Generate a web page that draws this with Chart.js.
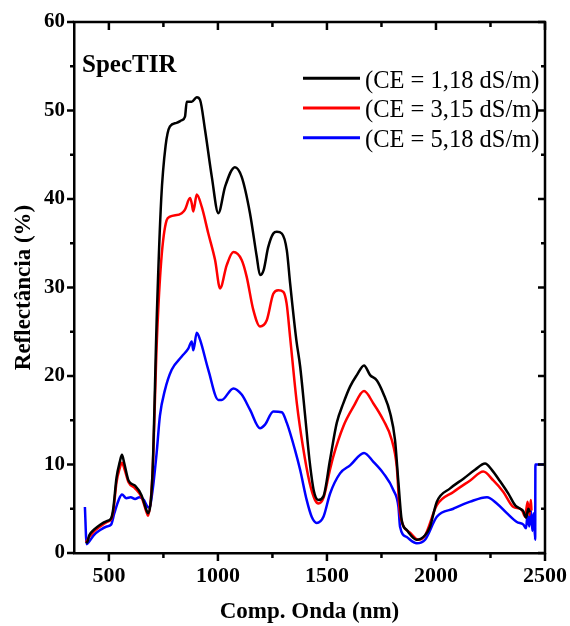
<!DOCTYPE html>
<html>
<head>
<meta charset="utf-8">
<script src="https://cdn.jsdelivr.net/npm/chart.js@4/dist/chart.umd.min.js"></script>
<style>
  html, body { margin: 0; padding: 0; background: #fff; }
  #wrap { width: 570px; height: 626px; }
</style>
</head>
<body>
<div id="wrap"><canvas id="c" width="570" height="626"></canvas></div>
<script>
// ---- data ----
const seriesLabels = ['(CE = 1,18 dS/m)', '(CE = 3,15 dS/m)', '(CE = 5,18 dS/m)'];

const blackNm  = [395,400,410,430,460,490,510,520,535,550,560,570,590,620,650,670,680,700,720,740,760,780,810,834,849,857,880,903,918,941,972,1002,1033,1078,1109,1147,1178,1193,1210,1230,1254,1270,1293,1316,1331,1339,1360,1377,1400,1420,1440,1461,1484,1514,1545,1575,1606,1637,1670,1698,1729,1759,1790,1812,1828,1843,1866,1912,1950,1973,2004,2065,2126,2179,2225,2256,2294,2332,2363,2386,2401,2413,2424,2430];
const blackVal = [1.3,1.2,2.0,2.6,3.2,3.6,3.9,5.0,8.5,10.3,11.1,10.2,8.2,7.6,6.5,5.0,4.5,9.0,27,40,46,48.2,48.6,48.9,49.3,51.0,51.0,51.5,51.2,47.8,42.5,38.4,41.4,43.6,42.5,38.4,33.5,31.4,32.0,34.5,36.1,36.3,36.1,34.2,30.5,28.6,24.0,21.1,15.5,10.5,7.0,6.0,6.4,10.5,14.7,16.9,18.8,20.1,21.2,20.1,19.5,18.0,15.8,12.8,7.9,3.7,2.6,1.5,2.0,3.0,5.8,7.3,8.4,9.4,10.1,9.4,8.1,6.7,5.4,5.0,4.7,4.0,5.0,4.6];

const redNm  = [395,410,430,460,490,510,520,535,550,560,570,590,620,650,670,680,700,720,740,765,780,834,849,872,880,887,903,926,956,987,1010,1040,1071,1109,1132,1162,1193,1224,1254,1277,1300,1315,1331,1362,1390,1420,1445,1461,1485,1510,1529,1575,1621,1670,1713,1759,1797,1820,1835,1881,1919,1950,2004,2080,2157,2217,2263,2309,2355,2393,2409,2420,2429,2435,2438];
const redVal = [1.2,1.8,2.4,3.0,3.5,3.8,4.7,8.0,9.6,10.2,9.6,8.0,7.3,6.3,4.8,4.2,9.0,24,33,37.6,38.0,38.4,38.8,40.1,39.5,38.6,40.5,39.1,36.1,33.1,29.9,32.5,34.0,33.1,31.2,27.5,25.6,26.3,29.3,29.7,29.5,28.2,24.4,16.9,12.0,8.0,6.0,5.6,6.3,9.0,10.9,14.3,16.5,18.3,16.9,15.0,12.8,9.8,4.5,2.3,1.5,2.0,5.4,6.9,8.2,9.2,8.2,6.9,5.2,4.9,4.1,5.8,4.3,6.0,4.8];

const blueNm  = [390,398,410,430,460,490,510,525,545,560,580,600,620,640,660,675,685,700,719,734,757,788,834,864,880,887,903,918,956,1002,1017,1071,1109,1147,1193,1216,1254,1293,1316,1354,1377,1407,1430,1453,1484,1514,1560,1606,1670,1713,1759,1805,1828,1835,1866,1912,1950,2004,2080,2157,2234,2279,2325,2371,2401,2413,2420,2428,2435,2442,2448,2455,2456,2500];
const blueVal = [5.2,1.0,1.3,2.0,2.6,3.0,3.2,4.5,6.0,6.6,6.2,6.3,6.1,6.3,6.0,5.3,5.1,7.0,11.3,15.5,18.4,20.7,22.2,23.1,23.9,22.9,24.9,24.1,20.7,17.3,17.3,18.6,17.9,16.2,14.1,14.5,16.0,15.9,14.7,11.6,9.4,6.0,4.1,3.4,4.1,6.7,9.0,9.9,11.3,10.3,9.0,7.1,5.2,3.0,1.8,1.1,1.5,4.1,5.0,5.8,6.3,5.6,4.5,3.5,3.2,2.8,4.3,3.0,4.9,2.5,4.5,1.5,10,10];

const xTickValues = [500, 1000, 1500, 2000, 2500];
const yTickValues = [0, 10, 20, 30, 40, 50, 60];
const xRange = [340, 2500];
const yRange = [0, 60];
const panelLabel = 'SpecTIR';
const xTitle = 'Comp. Onda (nm)';
const yTitle = 'Reflectância (%)';

// ---- chart ----
const colors = ['#000000', '#ff0000', '#0000ff'];
const toPts = (xs, ys) => xs.map((v, i) => ({ x: v, y: ys[i] }));
const serif = "'Liberation Serif', 'Times New Roman', serif";

const framePlugin = {
  id: 'frame',
  afterDraw(chart) {
    const { ctx, chartArea: { left, right, top, bottom }, scales: { x, y } } = chart;
    ctx.save();
    ctx.strokeStyle = '#000';
    ctx.lineWidth = 2.5;
    ctx.lineCap = 'butt';
    const seg = (x1, y1, x2, y2) => { ctx.beginPath(); ctx.moveTo(x1, y1); ctx.lineTo(x2, y2); ctx.stroke(); };
    // top & right border
    ctx.beginPath();
    ctx.moveTo(left - 1.25, top);
    ctx.lineTo(right, top);
    ctx.lineTo(right, bottom + 1.25);
    ctx.stroke();
    // x ticks (major + minor midpoints)
    const xStep = xTickValues[1] - xTickValues[0];
    for (let v = xTickValues[0] - xStep / 2; v <= xRange[1]; v += xStep / 2) {
      if (v < xRange[0]) continue;
      const px = x.getPixelForValue(v);
      const major = xTickValues.includes(v);
      const L = major ? 8 : 5;
      seg(px, bottom, px, bottom + L);
      seg(px, top, px, top + L);
    }
    const yStep = yTickValues[1] - yTickValues[0];
    for (let v = yRange[0]; v <= yRange[1]; v += yStep / 2) {
      const py = y.getPixelForValue(v);
      const major = yTickValues.includes(v);
      const L = major ? 7 : 4;
      seg(left - L, py, left, py);
      seg(right - L, py, right, py);
    }
    // panel label
    ctx.fillStyle = '#000';
    ctx.font = "bold 25px " + serif;
    ctx.textBaseline = 'alphabetic';
    ctx.textAlign = 'left';
    ctx.fillText(panelLabel, left + 8, top + 50);
    // legend
    ctx.font = "24.5px " + serif;
    chart.data.datasets.forEach((ds, i) => {
      const ly = top + 56.3 + i * 29.7;
      ctx.strokeStyle = ds.borderColor;
      ctx.lineWidth = 3;
      seg(right - 242, ly, right - 185, ly);
      ctx.fillStyle = '#000';
      ctx.fillText(ds.label, right - 180, ly + 9.2);
    });
    ctx.restore();
  }
};

new Chart(document.getElementById('c'), {
  type: 'line',
  data: {
    datasets: [
      { label: seriesLabels[0], data: toPts(blackNm, blackVal), borderColor: colors[0] },
      { label: seriesLabels[1], data: toPts(redNm, redVal), borderColor: colors[1] },
      { label: seriesLabels[2], data: toPts(blueNm, blueVal), borderColor: colors[2] }
    ].map(d => Object.assign(d, { borderWidth: 2.5, pointRadius: 0, cubicInterpolationMode: 'monotone', fill: false, backgroundColor: d.borderColor }))
  },
  options: {
    responsive: false,
    animation: false,
    devicePixelRatio: 1,
    layout: { padding: { left: 10, right: 25, top: 22, bottom: 0 } },
    plugins: { legend: { display: false }, tooltip: { enabled: false } },
    scales: {
      x: {
        type: 'linear',
        min: xRange[0], max: xRange[1],
        afterBuildTicks: s => { s.ticks = xTickValues.map(v => ({ value: v })); },
        afterFit: s => { s.height = 73; s.paddingRight = 0; s.paddingLeft = 0; },
        grid: { display: false, drawTicks: false, tickLength: 0 },
        border: { display: true, color: '#000', width: 2.5 },
        ticks: { color: '#000', padding: 10, maxRotation: 0, autoSkip: false,
                 callback: v => String(v),
                 font: { family: serif, size: 22, weight: 'bold' } },
        title: { display: true, text: xTitle, color: '#000', padding: { top: 0, bottom: 0 },
                 font: { family: serif, size: 23, weight: 'bold' } }
      },
      y: {
        type: 'linear',
        min: yRange[0], max: yRange[1],
        afterBuildTicks: s => { s.ticks = yTickValues.map(v => ({ value: v })); },
        afterFit: s => { s.width = 64; s.paddingTop = 0; s.paddingBottom = 0; },
        grid: { display: false, drawTicks: false, tickLength: 0 },
        border: { display: true, color: '#000', width: 2.5 },
        ticks: { color: '#000', padding: 9, callback: v => String(v),
                 font: { family: serif, size: 21, weight: 'bold' } },
        title: { display: true, text: yTitle, color: '#000', padding: { top: 0, bottom: 0 },
                 font: { family: serif, size: 23, weight: 'bold' } }
      }
    }
  },
  plugins: [framePlugin]
});
</script>
</body>
</html>
